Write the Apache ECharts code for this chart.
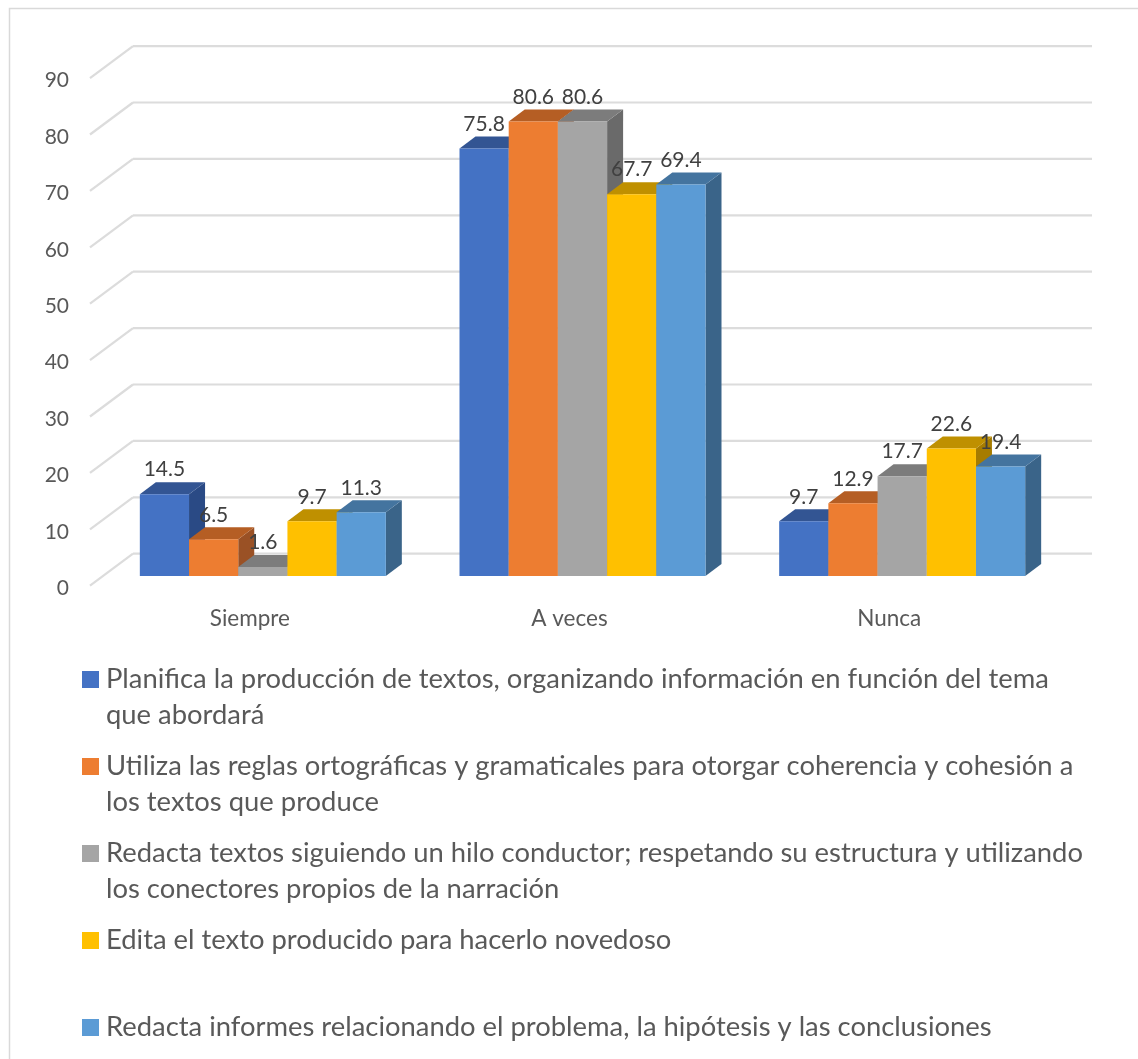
<!DOCTYPE html>
<html><head><meta charset="utf-8">
<style>html,body{margin:0;padding:0;background:#fff}#c{width:1138px;height:1059px}</style>
<script src="https://cdn.jsdelivr.net/npm/echarts@6/dist/echarts.min.js"></script>
</head><body><div id="c"></div>
<script>
const categories = ['Siempre', 'A veces', 'Nunca'];
const yTicks = [0, 10, 20, 30, 40, 50, 60, 70, 80, 90];
const planifica = [14.5, 75.8, 9.7];
const utiliza = [6.5, 80.6, 12.9];
const redactaTextos = [1.6, 80.6, 17.7];
const edita = [9.7, 67.7, 22.6];
const redactaInformes = [11.3, 69.4, 19.4];
const seriesNames = [
  'Planifica la producción de textos, organizando información en función del tema\nque abordará',
  'Utiliza las reglas ortográficas y gramaticales para otorgar coherencia y cohesión a\nlos textos que produce',
  'Redacta textos siguiendo un hilo conductor; respetando su estructura y utilizando\nlos conectores propios de la narración',
  'Edita el texto producido para hacerlo novedoso\n ',
  'Redacta informes relacionando el problema, la hipótesis y las conclusiones\n '
];
const seriesValues = [planifica, utiliza, redactaTextos, edita, redactaInformes];
const frontColors = ['#4472C4', '#ED7D31', '#A5A5A5', '#FFC000', '#5B9BD5'];
const topColors = ['#335593', '#B55E24', '#7C7C7C', '#BF9000', '#44749F'];
const sideColors = ['#2A4A85', '#9A5125', '#6A6A6A', '#A67C00', '#3A6489'];

const FONT = 'Lato, "Open Sans", sans-serif';
const WALL = [43, -32], BAR_DEPTH = [16, -12], BAR_SHIFT = [13, -9.7], BAR_W = 49.2;

const gridLines = {
  type: 'custom', silent: true, z: 1, data: yTicks.map(v => [0, v]),
  renderItem(params, api) {
    const y = api.coord([0, api.value(1)])[1], cs = params.coordSys;
    const x0 = cs.x, bx = x0 + WALL[0], by = y + WALL[1];
    const st = { stroke: '#DCDCDC', lineWidth: 2.2, fill: null };
    return { type: 'group', children: [
      { type: 'line', shape: { x1: x0, y1: y, x2: bx, y2: by }, style: st },
      { type: 'line', shape: { x1: bx, y1: by, x2: bx + cs.width, y2: by }, style: st }
    ]};
  }
};

function barRender(si) {
  return function (params, api) {
    const p = api.coord([api.value(0), api.value(1)]);
    const x = p[0] + BAR_SHIFT[0] + (si - 2.5) * BAR_W;
    const t = p[1] + BAR_SHIFT[1];
    const b = api.coord([api.value(0), 0])[1] + BAR_SHIFT[1];
    const w = BAR_W, dx = BAR_DEPTH[0], dy = BAR_DEPTH[1];
    return { type: 'group', children: [
      { type: 'polygon', shape: { points: [[x + w, t], [x + w + dx, t + dy], [x + w + dx, b + dy], [x + w, b]] }, style: { fill: sideColors[si] } },
      { type: 'polygon', shape: { points: [[x, t], [x + dx, t + dy], [x + w + dx, t + dy], [x + w, t]] }, style: { fill: topColors[si] } },
      { type: 'rect', shape: { x: x, y: t, width: w, height: b - t }, style: { fill: frontColors[si] } }
    ]};
  };
}
const barSeries = seriesNames.map((name, si) => ({
  type: 'custom', name, z: 2 + si,
  itemStyle: { color: frontColors[si] },
  data: seriesValues[si].map((v, c) => [c, v]),
  renderItem: barRender(si)
}));
const labelSeries = seriesNames.map((name, si) => ({
  type: 'custom', z: 20, silent: true,
  data: seriesValues[si].map((v, c) => [c, v]),
  renderItem(params, api) {
    const p = api.coord([api.value(0), api.value(1)]);
    return { type: 'text', style: {
      x: p[0] + BAR_SHIFT[0] + (si - 2) * BAR_W, y: p[1] + BAR_SHIFT[1] - 24.5,
      text: api.value(1).toFixed(1), fill: '#404040', font: '21px ' + FONT, align: 'center', verticalAlign: 'middle'
    }};
  }
}));

const chart = echarts.init(document.getElementById('c'), null, { renderer: 'canvas', width: 1138, height: 1059 });
chart.setOption({
  animation: false,
  backgroundColor: '#fff',
  grid: { left: 90, top: 78.1, width: 959, height: 507.6 },
  xAxis: { type: 'category', data: categories, axisLine: { show: false }, axisTick: { show: false }, splitLine: { show: false },
    axisLabel: { color: '#595959', fontSize: 22.5, fontFamily: FONT, margin: 22 } },
  yAxis: { type: 'value', min: 0, max: 90, interval: 10, axisLine: { show: false }, axisTick: { show: false }, splitLine: { show: false },
    axisLabel: { color: '#595959', fontSize: 21, fontFamily: FONT, margin: 21, verticalAlign: 'top', lineHeight: 5 } },
  legend: {
    orient: 'vertical', left: 77, top: 620.5, height: 600, icon: 'rect', itemWidth: 17, itemHeight: 17, itemGap: -21,
    selectedMode: false, data: seriesNames,
    formatter: n => '\n' + n,
    textStyle: { color: '#595959', fontSize: 27.4, lineHeight: 36, fontFamily: FONT, padding: [0, 0, 0, 2] }
  },
  graphic: [{ type: 'polyline', silent: true, shape: { points: [[9.5, 1059], [9.5, 8.5], [1138, 8.5]] }, style: { stroke: '#D9D9D9', lineWidth: 1.5, fill: null } }],
  series: [gridLines, ...barSeries, ...labelSeries]
});
</script></body></html>
